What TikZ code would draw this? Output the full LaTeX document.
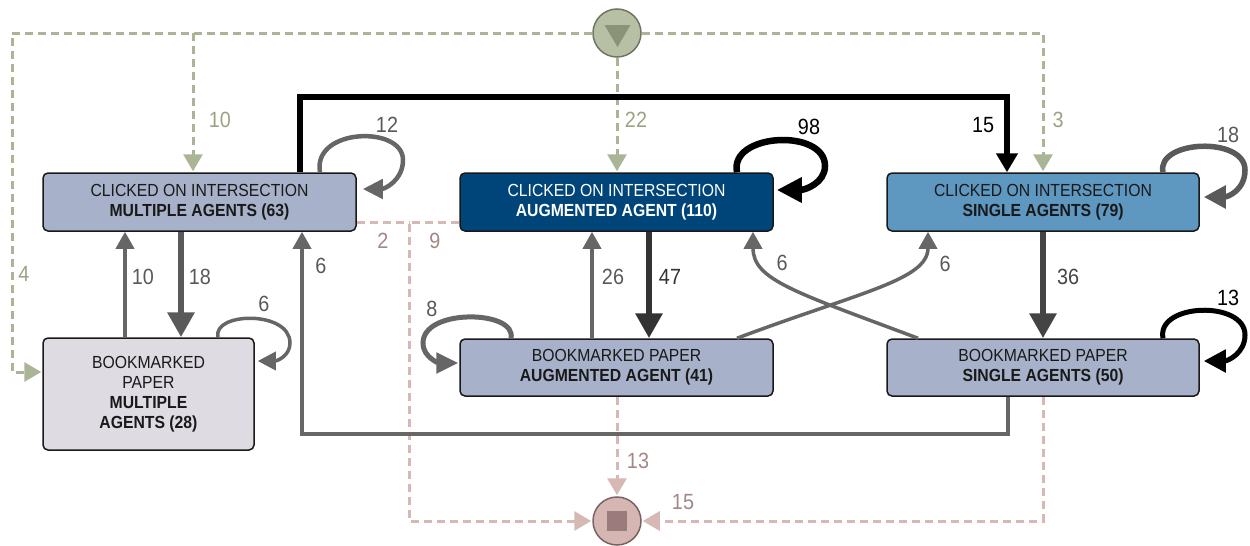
\documentclass[tikz,border=0pt]{standalone}
\usepackage{fontspec}
\setmainfont{Liberation Sans}[FakeStretch=0.9]
\usetikzlibrary{arrows.meta}

\definecolor{boxgray}{HTML}{A7B2CA}
\definecolor{augblue}{HTML}{00457A}
\definecolor{singblue}{HTML}{5E97C0}
\definecolor{paleviolet}{HTML}{DEDBE3}
\definecolor{startfill}{HTML}{B7C0A5}
\definecolor{startline}{HTML}{6F7660}
\definecolor{startmark}{HTML}{8B9277}
\definecolor{startflow}{HTML}{AAB597}
\definecolor{startlabel}{HTML}{9BA385}
\definecolor{endfill}{HTML}{D5B6B3}
\definecolor{endline}{HTML}{7A6262}
\definecolor{endmark}{HTML}{9B7B7B}
\definecolor{endflow}{HTML}{D8B8B5}
\definecolor{endlabel}{HTML}{A38686}
\definecolor{flowgray}{HTML}{666666}
\definecolor{flowmid}{HTML}{5A5A5A}
\definecolor{flowdark}{HTML}{333333}
\definecolor{flowdeep}{HTML}{444444}
\definecolor{labelgray}{HTML}{595959}

\begin{document}
\begin{tikzpicture}[x=1pt,y=-1pt,
  stbox/.style={draw=black!90, line width=1.5pt, rounded corners=5pt, inner sep=0pt,
    align=center, font=\fontsize{17.5}{20}\selectfont, text=black!90},
  num/.style={font=\fontsize{22}{24}\selectfont, inner sep=0pt},
  startflowline/.style={draw=startflow, line width=3pt, dash pattern=on 8pt off 5pt},
  endflowline/.style={draw=endflow, line width=3pt, dash pattern=on 8pt off 5pt},
  dasharrow/.style={-{Triangle[length=17pt,width=19pt]}, shorten >=1pt},
  flow/.style={draw=flowgray, line width=3.5pt, -{Triangle[length=17pt,width=18pt]}},
  heavy/.style={line width=6.5pt, -{Triangle[length=25pt,width=26pt]}},
]
\useasboundingbox (0,0) rectangle (1250,546);

% states
\node[stbox, fill=boxgray, minimum width=313pt, minimum height=58pt] (B1) at (199.5,202)
  {CLICKED ON INTERSECTION\\\textbf{MULTIPLE AGENTS (63)}};
\node[stbox, fill=augblue, text=white, minimum width=313pt, minimum height=58pt] (B2) at (616.5,202)
  {CLICKED ON INTERSECTION\\\textbf{AUGMENTED AGENT (110)}};
\node[stbox, fill=singblue, minimum width=312pt, minimum height=58pt] (B3) at (1043,202)
  {CLICKED ON INTERSECTION\\\textbf{SINGLE AGENTS (79)}};
\node[stbox, fill=paleviolet, minimum width=211pt, minimum height=112pt] (B4) at (148.5,394)
  {BOOKMARKED\\PAPER\\\textbf{MULTIPLE}\\\textbf{AGENTS (28)}};
\node[stbox, fill=boxgray, minimum width=313pt, minimum height=57pt] (B5) at (616.5,367.5)
  {BOOKMARKED PAPER\\\textbf{AUGMENTED AGENT (41)}};
\node[stbox, fill=boxgray, minimum width=312pt, minimum height=57pt] (B6) at (1043,367.5)
  {BOOKMARKED PAPER\\\textbf{SINGLE AGENTS (50)}};

% start and end
\node[circle, draw=startline, fill=startfill, line width=1.5pt, minimum size=48pt, inner sep=0pt] (S) at (617,33) {};
\fill[startmark] (604.5,25) -- (630.5,25) -- (617.5,47) -- cycle;
\node[circle, draw=endline, fill=endfill, line width=1.5pt, minimum size=48pt, inner sep=0pt] (E) at (617,521) {};
\fill[endmark] (607,511) rectangle (627,530.5);

% entry flows
\coordinate (sw) at (12,33);
\coordinate (s4) at (12,372);
\coordinate (s10) at (193,33);
\coordinate (s3) at (1043,33);
\draw[startflowline, dasharrow] (S.west) -- (sw) -- (s4) -- (B4.west |- s4);
\draw[startflowline, dasharrow] (s10) -- (B1.north -| s10);
\draw[startflowline, dasharrow] (S.south) -- (S.south |- B2.north);
\draw[startflowline, dasharrow] (S.east) -- (s3) -- (B3.north -| s3);
\node[num, text=startlabel] at (220,120) {10};
\node[num, text=startlabel] at (636,120) {22};
\node[num, text=startlabel] at (1058,120) {3};
\node[num, text=startlabel] at (24,274) {4};

% exit flows
\coordinate (e2) at (409,222);
\coordinate (e2b) at (409,521);
\coordinate (e15) at (1043,521);
\draw[endflowline] (B1.east |- e2) -- (e2);
\draw[endflowline, dasharrow] (B2.west |- e2) -- (e2) -- (e2b) -- (E.west);
\draw[endflowline, dasharrow] (B5.south -| E.north) -- (E.north);
\draw[endflowline, dasharrow] (B6.south) -- (e15) -- (E.east);
\node[num, text=endlabel] at (383,241) {2};
\node[num, text=endlabel] at (435,241) {9};
\node[num, text=endlabel] at (638,461) {13};
\node[num, text=endlabel] at (683,502) {15};

% transitions between states
\coordinate (xa) at (125,0);
\coordinate (xb) at (181,0);
\coordinate (xc) at (592,0);
\coordinate (xd) at (649,0);
\draw[flow] (B4.north -| xa) -- (B1.south -| xa);
\draw[flow, heavy, draw=flowmid] (B1.south -| xb) -- (B4.north -| xb);
\draw[flow] (B5.north -| xc) -- (B2.south -| xc);
\draw[flow, heavy, draw=flowdark] (B2.south -| xd) -- (B5.north -| xd);
\draw[flow, heavy, draw=flowdeep] (B3.south) -- (B6.north);

\coordinate (t1) at (300,97);
\coordinate (t2) at (1007,97);
\draw[line width=6.5pt, black, -{Triangle[length=19pt,width=21pt]}]
  (B1.north -| t1) -- (t1) -- (t2) -- (B3.north -| t2);

\coordinate (b1) at (1008,434);
\coordinate (b2) at (302,434);
\draw[flow] (B6.south -| b1) -- (b1) -- (b2) -- (B1.south -| b2);

\draw[flow] ([xshift=120.5pt]B5.north) .. controls (860,292) and (928,280) .. ([xshift=-115pt]B3.south);
\draw[flow] ([xshift=-125pt]B6.north) .. controls (795,292) and (753,280) .. ([xshift=136.5pt]B2.south);

\node[num, text=labelgray] at (143,277) {10};
\node[num, text=labelgray] at (200,277) {18};
\node[num, text=labelgray] at (613,277) {26};
\node[num, text=flowdark] at (670,277) {47};
\node[num, text=flowdeep] at (1068,277) {36};
\node[num, text=black] at (983,125) {15};
\node[num, text=labelgray] at (321,266) {6};
\node[num, text=labelgray] at (782,263) {6};
\node[num, text=labelgray] at (945,264) {6};

% self transitions
\draw[draw=flowgray, line width=4.5pt, -{Triangle[length=20pt,width=19pt]}]
  ([xshift=120.5pt]B1.north) .. controls (312,128) and (403,125) .. (403,160)
  .. controls (403,180) and (385,189) .. ([xshift=6pt,yshift=13pt]B1.east);
\draw[draw=black, line width=6.5pt, -{Triangle[length=25pt,width=24pt]}]
  ([xshift=120.5pt]B2.north) .. controls (729,133) and (825,128) .. (825,166)
  .. controls (825,183) and (805,190) .. ([xshift=3pt,yshift=12pt]B2.east);
\draw[draw=flowmid, line width=5.5pt, -{Triangle[length=22pt,width=22pt]}]
  ([xshift=120pt]B3.north) .. controls (1156,140) and (1245,136) .. (1245,170)
  .. controls (1245,190) and (1228,197) .. ([xshift=4pt,yshift=5pt]B3.east);
\draw[draw=black, line width=5pt, -{Triangle[length=22pt,width=22pt]}]
  ([xshift=120pt]B6.north) .. controls (1156,303) and (1245,300) .. (1245,335)
  .. controls (1245,353) and (1228,361) .. ([xshift=4pt,yshift=6.5pt]B6.east);
\draw[draw=flowgray, line width=3.5pt, -{Triangle[length=18pt,width=18pt]}]
  ([xshift=69.5pt]B4.north) .. controls (212,312) and (290,310) .. (290,343)
  .. controls (290,356) and (277,361) .. ([xshift=3pt,yshift=33pt]B4.east);
\draw[draw=flowgray, line width=5pt, -{Triangle[length=22pt,width=20pt]}]
  ([xshift=-105.5pt]B5.north) .. controls (517,310) and (423,308) .. (423,343)
  .. controls (423,358) and (440,363) .. ([xshift=-1pt,yshift=4.5pt]B5.west);

\node[num, text=labelgray] at (387,125) {12};
\node[num, text=black] at (809,127) {98};
\node[num, text=labelgray] at (1228,135) {18};
\node[num, text=black] at (1228,298) {13};
\node[num, text=labelgray] at (264,304) {6};
\node[num, text=labelgray] at (432,309) {8};
\end{tikzpicture}
\end{document}
